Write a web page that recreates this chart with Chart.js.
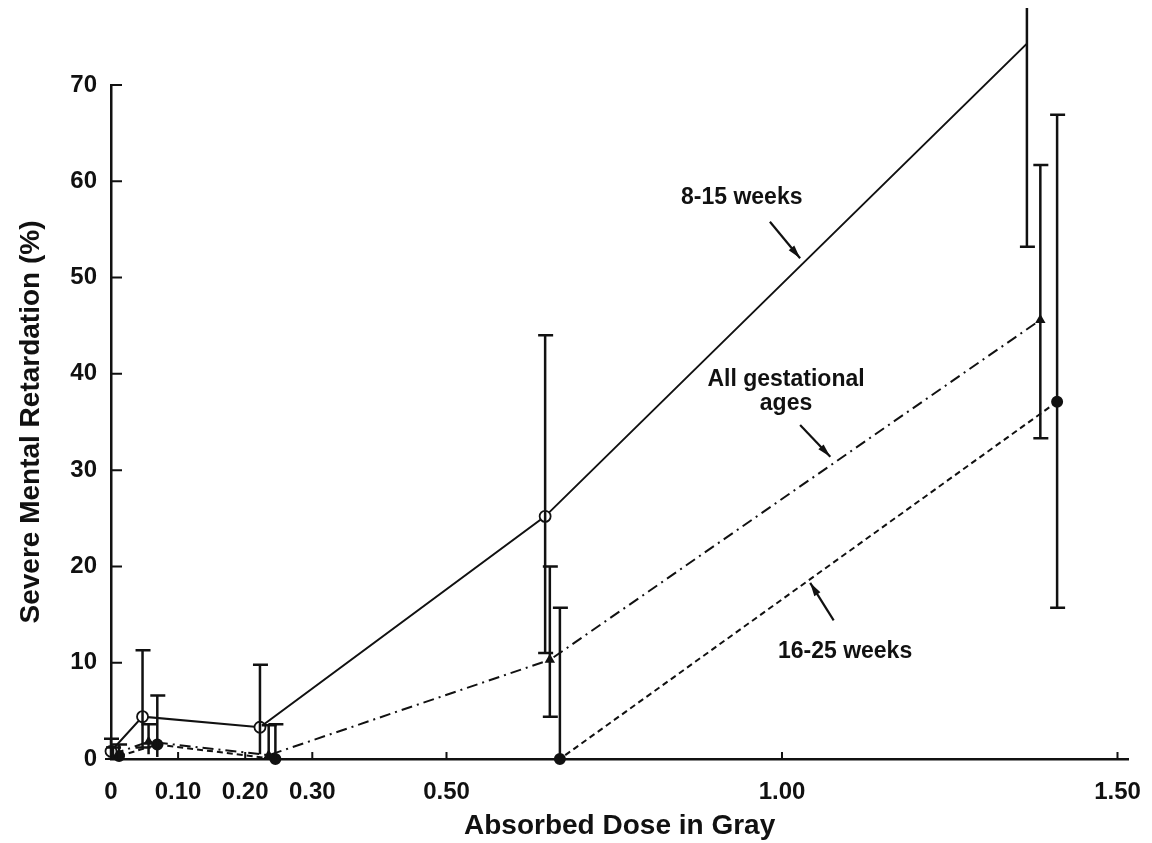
<!DOCTYPE html>
<html>
<head>
<meta charset="utf-8">
<script src="https://cdn.jsdelivr.net/npm/chart.js@4.4.1/dist/chart.umd.min.js"></script>
<style>
  html, body { margin: 0; padding: 0; background: #fff; }
  #wrap { width: 1152px; height: 843px; }
</style>
</head>
<body>
<div id="wrap"><canvas id="dose-chart" width="1152" height="843"></canvas></div>
<script>
//
// Severe mental retardation vs absorbed dose
//

// Data
var doseTicks = [0, 0.10, 0.20, 0.30, 0.50, 1.00, 1.50];
var yTicks = [0, 10, 20, 30, 40, 50, 60, 70];

var dose815 = [0, 0.047, 0.222, 0.647, 1.365];
var val815 = [0.8, 4.4, 3.3, 25.2, 74.3];
var low815 = [0, 1.2, 0.5, 11.0, 53.2];
var high815 = [2.1, 11.3, 9.8, 44.0, 78.0];

var doseAll = [0.003, 0.056, 0.235, 0.654, 1.385];
var valAll = [0.5, 1.8, 0.4, 10.3, 45.6];
var lowAll = [0, 0.5, 0, 4.4, 33.3];
var highAll = [1.2, 3.6, 3.5, 20.0, 61.7];

var dose1625 = [0.012, 0.069, 0.245, 0.669, 1.41];
var val1625 = [0.3, 1.5, 0, 0, 37.1];
var low1625 = [0, 0.2, 0, 0, 15.7];
var high1625 = [1.5, 6.6, 3.6, 15.7, 66.9];

// Callout labels: text lines, text anchor, arrow start/end (data units)
var callouts = [
	{ lines: ['8-15 weeks'], at: [0.940, 58.3], from: [0.982, 55.8], to: [1.027, 52.0] },
	{ lines: ['All gestational', 'ages'], at: [1.006, 39.4], from: [1.027, 34.7], to: [1.072, 31.4] },
	{ lines: ['16-25 weeks'], at: [1.094, 11.2], from: [1.077, 14.4], to: [1.042, 18.3] }
];

function toPoints(xs, ys) {
	return xs.map(function(x, i) { return { x: x, y: ys[i] }; });
}

var FONT = '"Liberation Sans", Arial, sans-serif';
var Y_MAX = 70;

// Error bars drawn through the chart scales
var errorBars = {
	id: 'errorBars',
	afterDatasetsDraw: function(chart) {
		var ctx = chart.ctx;
		var xs = chart.scales.x, ys = chart.scales.y;
		ctx.save();
		ctx.strokeStyle = '#111';
		ctx.lineWidth = 2.5;
		chart.data.datasets.forEach(function(ds) {
			ds.data.forEach(function(p, i) {
				var px = xs.getPixelForValue(p.x);
				var top = ys.getPixelForValue(ds.errHigh[i]);
				var bot = ys.getPixelForValue(ds.errLow[i]);
				ctx.beginPath();
				ctx.moveTo(px, top);
				ctx.lineTo(px, bot);
				if (ds.errHigh[i] <= Y_MAX) {
					ctx.moveTo(px - 7, top);
					ctx.lineTo(px + 8, top);
				}
				if (ds.errLow[i] > 0.5) {
					ctx.moveTo(px - 7, bot);
					ctx.lineTo(px + 8, bot);
				}
				ctx.stroke();
			});
		});
		ctx.restore();
	}
};

// Inward tick marks and callout labels
var decorations = {
	id: 'decorations',
	afterDraw: function(chart) {
		var ctx = chart.ctx;
		var xs = chart.scales.x, ys = chart.scales.y;
		var area = chart.chartArea;
		ctx.save();
		ctx.strokeStyle = '#111';
		ctx.lineWidth = 2;
		ctx.beginPath();
		ys.ticks.forEach(function(t) {
			var py = ys.getPixelForValue(t.value);
			if (t.value === 0) return;
			ctx.moveTo(area.left, py);
			ctx.lineTo(area.left + 11, py);
		});
		xs.ticks.forEach(function(t) {
			var px = xs.getPixelForValue(t.value);
			if (t.value === 0) return;
			ctx.moveTo(px, area.bottom);
			ctx.lineTo(px, area.bottom - 7);
		});
		// short stub of the x axis left of the y axis
		ctx.moveTo(area.left - 6, area.bottom);
		ctx.lineTo(area.left, area.bottom);
		ctx.stroke();

		ctx.fillStyle = '#111';
		ctx.font = 'bold 23px ' + FONT;
		ctx.textAlign = 'center';
		ctx.textBaseline = 'middle';
		callouts.forEach(function(c) {
			var cx = xs.getPixelForValue(c.at[0]);
			var cy = ys.getPixelForValue(c.at[1]);
			c.lines.forEach(function(line, k) {
				ctx.fillText(line, cx, cy + k * 24);
			});
			var x1 = xs.getPixelForValue(c.from[0]), y1 = ys.getPixelForValue(c.from[1]);
			var x2 = xs.getPixelForValue(c.to[0]), y2 = ys.getPixelForValue(c.to[1]);
			ctx.lineWidth = 2.2;
			ctx.beginPath();
			ctx.moveTo(x1, y1);
			ctx.lineTo(x2, y2);
			ctx.stroke();
			var ang = Math.atan2(y2 - y1, x2 - x1);
			ctx.beginPath();
			ctx.moveTo(x2, y2);
			ctx.lineTo(x2 - 14 * Math.cos(ang - 0.26), y2 - 14 * Math.sin(ang - 0.26));
			ctx.lineTo(x2 - 14 * Math.cos(ang + 0.26), y2 - 14 * Math.sin(ang + 0.26));
			ctx.closePath();
			ctx.fill();
		});
		ctx.restore();
	}
};

var DoseChart = (function() {

	var canvas = document.getElementById('dose-chart');

	function initChart(canvas) {
		return new Chart(canvas, {
			type: 'line',
			data: {
				datasets: [{
					label: '8-15 weeks',
					data: toPoints(dose815, val815),
					errLow: low815,
					errHigh: high815,
					borderColor: '#111',
					borderWidth: 2,
					pointStyle: 'circle',
					pointRadius: 5.5,
					pointBackgroundColor: '#fff',
					pointBorderColor: '#111',
					pointBorderWidth: 1.8
				}, {
					label: 'All gestational ages',
					data: toPoints(doseAll, valAll),
					errLow: lowAll,
					errHigh: highAll,
					borderColor: '#111',
					borderWidth: 2,
					borderDash: [11, 5, 2, 5],
					pointStyle: 'triangle',
					pointRadius: 4,
					pointBackgroundColor: '#111',
					pointBorderColor: '#111'
				}, {
					label: '16-25 weeks',
					data: toPoints(dose1625, val1625),
					errLow: low1625,
					errHigh: high1625,
					borderColor: '#111',
					borderWidth: 2,
					borderDash: [6, 4],
					pointStyle: 'circle',
					pointRadius: 5,
					pointBackgroundColor: '#111',
					pointBorderColor: '#111'
				}]
			},
			options: {
				responsive: false,
				animation: false,
				devicePixelRatio: 1,
				clip: false,
				layout: { padding: { top: 85, right: 14, left: 0, bottom: 0 } },
				plugins: {
					legend: { display: false },
					tooltip: { enabled: false }
				},
				scales: {
					x: {
						type: 'linear',
						min: 0,
						max: 1.516,
						grid: { display: false },
						border: { display: true, color: '#111', width: 2.5 },
						afterBuildTicks: function(scale) {
							scale.ticks = doseTicks.map(function(v) { return { value: v }; });
						},
						afterFit: function(scale) { scale.height = 84; },
						ticks: {
							color: '#111',
							padding: 11,
							maxRotation: 0,
							autoSkip: false,
							font: { family: FONT, size: 24, weight: 'bold' },
							callback: function(v) { return v === 0 ? '0' : v.toFixed(2); }
						},
						title: {
							display: true,
							text: 'Absorbed Dose in Gray',
							color: '#111',
							padding: { top: 0, bottom: 0 },
							font: { family: FONT, size: 28, weight: 'bold' }
						}
					},
					y: {
						min: 0,
						max: Y_MAX,
						grid: { display: false },
						border: { display: true, color: '#111', width: 2.5 },
						afterBuildTicks: function(scale) {
							scale.ticks = yTicks.map(function(v) { return { value: v }; });
						},
						afterFit: function(scale) { scale.width = 111; },
						ticks: {
							color: '#111',
							padding: 6,
							font: { family: FONT, size: 24, weight: 'bold' }
						},
						title: {
							display: true,
							text: 'Severe Mental Retardation (%)',
							color: '#111',
							padding: { top: 14, bottom: 0 },
							font: { family: FONT, size: 28, weight: 'bold' }
						}
					}
				}
			},
			plugins: [errorBars, decorations]
		});
	}

	if (canvas) {
		initChart(canvas);
	}

})();
</script>
</body>
</html>
